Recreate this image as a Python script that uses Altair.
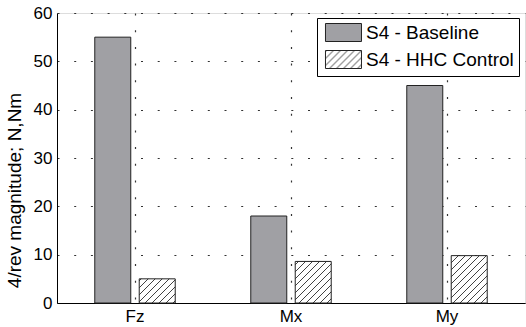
import sys
import altair as alt
import pandas as pd
import altair.utils.html as _alt_html

# 4/rev hub loads for each component, baseline vs. HHC control
components = ["Fz", "Mx", "My"]
baseline = [55.0, 18.0, 45.0]
hhc_control = [5.0, 8.6, 9.8]
series_names = ["S4 - Baseline", "S4 - HHC Control"]
y_ticks = [0, 10, 20, 30, 40, 50, 60]

rows = []
for comp, b, h in zip(components, baseline, hhc_control):
    rows.append({"component": comp, "case": series_names[0], "value": b})
    rows.append({"component": comp, "case": series_names[1], "value": h})
df = pd.DataFrame(rows)

FONT = "Liberation Sans"
GRID_DASH = [2, 14.7]

# diagonal hatch used as the fill of the HHC bars and their legend swatch
HATCH_DEFS = (
    '<svg width="0" height="0" style="position:absolute">'
    '<defs><pattern id="hatch" patternUnits="userSpaceOnUse" width="7" height="7">'
    '<rect width="7" height="7" fill="white"/>'
    '<path d="M-1,1 L1,-1 M0,7 L7,0 M6,8 L8,6" stroke="#111" stroke-width="0.8"/>'
    '</pattern></defs></svg>'
)

_spec_to_html = _alt_html.spec_to_html


def _spec_to_html_with_hatch(*args, **kwargs):
    html = _spec_to_html(*args, **kwargs)
    return html.replace("<body>", "<body>\n" + HATCH_DEFS, 1)


# make the page carry the pattern definition wherever altair builds its html
for _mod in list(sys.modules.values()):
    if getattr(_mod, "__name__", "").startswith("altair") and \
            getattr(_mod, "spec_to_html", None) is _spec_to_html:
        _mod.spec_to_html = _spec_to_html_with_hatch

# legend swatch: a 36x18 box; the nominal symbol is 18 px wide, so the path
# reaches past it and the labels are pushed right by the same amount
SWATCH_PATH = "M-0.67,-1H3.33V1H-0.67Z"

chart = (
    alt.Chart(df)
    .mark_bar(stroke="#222", strokeWidth=1)
    .encode(
        x=alt.X(
            "component:N",
            sort=components,
            scale=alt.Scale(paddingInner=0, paddingOuter=0),
            axis=alt.Axis(
                title=None,
                labelAngle=0,
                labelFont=FONT,
                labelFontSize=17,
                labelColor="black",
                labelPadding=5,
                ticks=False,
                domainColor="black",
                grid=True,
                gridDash=GRID_DASH,
                gridColor="#333",
                gridWidth=1.2,
            ),
        ),
        xOffset=alt.XOffset(
            "case:N",
            sort=series_names,
            scale=alt.Scale(paddingInner=0.19, paddingOuter=0.85),
        ),
        y=alt.Y(
            "value:Q",
            scale=alt.Scale(domain=[0, 60], nice=False),
            axis=alt.Axis(
                title="4/rev magnitude; N,Nm",
                titleFont=FONT,
                titleFontSize=19,
                titleFontWeight="normal",
                titleColor="black",
                titleX=-33,
                titleY=177,
                titleAlign="center",
                titleBaseline="bottom",
                titleAngle=270,
                values=y_ticks,
                labelFont=FONT,
                labelFontSize=17,
                labelColor="black",
                labelPadding=5,
                ticks=False,
                domainColor="black",
                grid=True,
                gridDash=GRID_DASH,
                gridColor="#333",
                gridWidth=1.2,
            ),
        ),
        fill=alt.Fill(
            "case:N",
            sort=series_names,
            scale=alt.Scale(domain=series_names, range=["#a0a0a4", "url(#hatch)"]),
            legend=alt.Legend(
                title=None,
                orient="none",
                legendX=260,
                legendY=5,
                padding=5,
                strokeColor="black",
                fillColor="white",
                symbolType=SWATCH_PATH,
                symbolSize=324,
                symbolStrokeColor="#222",
                symbolStrokeWidth=1,
                symbolOpacity=1,
                labelFont=FONT,
                labelFontSize=19,
                labelColor="black",
                labelOffset=25,
                rowPadding=4,
                labelLimit=300,
            ),
        ),
    )
    .properties(
        width=468,
        height=290,
        autosize=alt.AutoSizeParams(type="none"),
        padding={"left": 57, "top": 13, "right": 1, "bottom": 24},
    )
    .configure_view(stroke="black", strokeWidth=1)
    .configure(background="white")
)

chart.save("out.html", embed_options={"renderer": "svg", "actions": False})
